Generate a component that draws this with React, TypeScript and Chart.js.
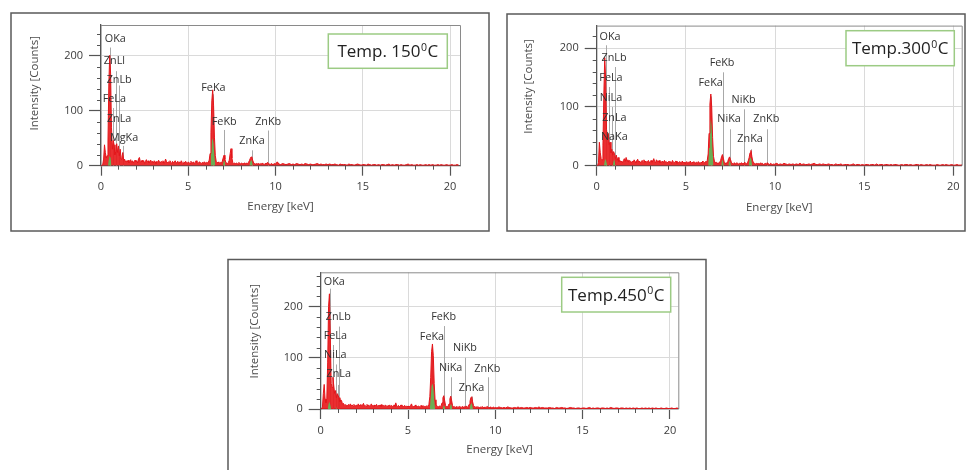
import React, { useEffect, useRef } from 'react';
import { Chart, registerables } from 'chart.js';

Chart.register(...registerables);

// ---- channel grid of the spectra (keV) ----
const LOW_START = 0;
const LOW_STEP = 0.05; // 0.00 .. 9.95 keV
const HIGH_START = 10;
const HIGH_STEP = 0.1; // 10.0 .. 20.5 keV

// ---- Temp. 150 C ----
const counts150Low = [
  0, 0, 2, 12, 38, 24, 14, 18, 45, 150, 201, 168, 70, 30, 46, 38, 20, 26, 40, 24,
  36, 18, 30, 12, 16, 24, 10, 12, 7, 9, 6, 10, 5, 8, 11, 6, 9, 5, 8, 10,
  7, 9, 5, 12, 15, 8, 6, 10, 7, 9, 4, 8, 11, 6, 9, 5, 7, 10, 6, 8,
  5, 9, 7, 4, 8, 6, 10, 7, 5, 8, 6, 9, 4, 7, 12, 8, 5, 7, 6, 9,
  6, 4, 8, 5, 7, 9, 5, 6, 8, 4, 7, 5, 9, 6, 4, 7, 5, 8, 6, 4,
  7, 5, 4, 8, 6, 5, 7, 4, 6, 9, 5, 4, 6, 7, 5, 4, 6, 5, 7, 6,
  5, 6, 5, 7, 10, 22, 60, 118, 138, 110, 52, 18, 8, 6, 5, 7, 4, 6, 5, 8,
  14, 19, 12, 6, 5, 4, 6, 10, 22, 31, 14, 6, 4, 5, 3, 5, 4, 3, 6, 4,
  3, 5, 4, 3, 5, 4, 3, 5, 4, 6, 9, 13, 16, 15, 9, 5, 4, 3, 4, 3,
  4, 3, 2, 4, 3, 5, 3, 2, 4, 3, 5, 6, 4, 3, 2, 4, 3, 2, 3, 4,
];
const counts150High = [
  3, 7, 3, 2, 4, 3, 2, 3, 4, 2,
  3, 2, 4, 3, 2, 3, 2, 4, 3, 2,
  3, 2, 2, 3, 4, 2, 3, 2, 2, 3,
  2, 3, 2, 2, 3, 2, 1, 3, 2, 2,
  2, 1, 3, 2, 2, 1, 2, 3, 2, 1,
  2, 2, 1, 3, 2, 1, 2, 2, 1, 2,
  1, 2, 2, 1, 2, 3, 1, 2, 1, 2,
  2, 1, 2, 1, 1, 2, 3, 1, 2, 1,
  1, 2, 1, 2, 1, 1, 2, 1, 2, 1,
  2, 1, 1, 2, 1, 2, 1, 1, 2, 1,
  1, 2, 1, 1, 2, 1,
];
const green150Energy = [0.40, 0.45, 0.50, 0.55, 0.60, null, 6.25, 6.30, 6.35, 6.40, 6.45, 6.50, 6.55, null, 6.98, 7.03, 7.08, 7.13, null, 8.50, 8.55, 8.60, 8.65, 8.70];
const green150Counts = [0, 12, 18, 14, 0, null, 0, 20, 45, 50, 40, 15, 0, null, 0, 8, 9, 0, null, 0, 7, 10, 9, 0];
const marks150Names = ['OKa', 'ZnLl', 'ZnLb', 'FeLa', 'ZnLa', 'MgKa', 'FeKa', 'FeKb', 'ZnKa', 'ZnKb'];
const marks150Energy = [0.525, 0.884, 1.034, 0.705, 1.012, 1.254, 6.4, 7.058, 8.638, 9.572];
const marks150Top = [215, 172, 146, 105, 62, 36, 130, 65, 28, 64];
const labels150X = [0.82, 0.77, 1.04, 0.76, 1.04, 1.32, 6.44, 7.06, 8.65, 9.58];
const labels150Y = [230, 191, 156, 121, 86, 51, 141, 80, 45, 80];

// ---- Temp. 300 C ----
const counts300Low = [
  0, 0, 5, 40, 22, 12, 10, 35, 120, 184, 150, 62, 48, 55, 36, 40, 22, 28, 18, 24,
  20, 12, 18, 9, 14, 7, 9, 6, 8, 5, 9, 12, 7, 14, 8, 10, 6, 9, 7, 5,
  8, 6, 10, 7, 5, 9, 11, 6, 8, 5, 7, 9, 6, 10, 5, 8, 6, 7, 9, 5,
  7, 9, 6, 8, 12, 7, 5, 10, 8, 6, 9, 5, 7, 6, 8, 5, 9, 6, 7, 5,
  6, 8, 5, 7, 4, 9, 6, 5, 7, 8, 4, 6, 5, 7, 6, 4, 8, 5, 6, 4,
  5, 7, 4, 6, 5, 8, 4, 6, 5, 7, 4, 5, 6, 4, 7, 5, 4, 6, 5, 8,
  6, 5, 7, 6, 9, 20, 55, 105, 122, 100, 48, 16, 8, 5, 6, 4, 5, 4, 6, 9,
  15, 19, 13, 6, 4, 5, 4, 7, 12, 15, 11, 6, 4, 3, 5, 4, 3, 5, 4, 3,
  4, 3, 5, 4, 3, 4, 6, 4, 3, 5, 8, 14, 22, 26, 16, 8, 5, 4, 3, 4,
  3, 4, 2, 3, 5, 3, 4, 2, 3, 4, 3, 5, 4, 3, 2, 4, 3, 2, 3, 2,
];
const counts300High = [
  3, 4, 2, 3, 2, 4, 3, 2, 3, 2,
  3, 2, 3, 2, 4, 2, 3, 2, 2, 3,
  2, 3, 4, 2, 2, 3, 2, 3, 2, 2,
  3, 2, 2, 1, 3, 2, 2, 3, 1, 2,
  2, 2, 1, 2, 3, 1, 2, 2, 1, 2,
  1, 2, 2, 1, 2, 2, 1, 3, 1, 2,
  2, 1, 2, 2, 1, 2, 1, 2, 2, 1,
  1, 2, 1, 2, 2, 1, 2, 1, 1, 2,
  2, 1, 2, 1, 1, 2, 1, 2, 1, 1,
  1, 2, 1, 1, 2, 1, 2, 1, 1, 2,
  1, 1, 2, 1, 1, 2,
];
const green300Energy = [0.40, 0.45, 0.50, 0.55, 0.60, null, 0.90, 0.95, 1.00, 1.05, null, 6.25, 6.30, 6.35, 6.40, 6.45, 6.50, 6.55, null, 6.98, 7.03, 7.08, 7.13, null, 7.38, 7.43, 7.48, 7.53, null, 8.52, 8.57, 8.62, 8.67, 8.72];
const green300Counts = [0, 8, 12, 6, 0, null, 0, 8, 10, 0, null, 0, 30, 70, 80, 68, 28, 0, null, 0, 9, 10, 0, null, 0, 7, 8, 0, null, 0, 10, 14, 12, 0];
const marks300Names = ['OKa', 'ZnLb', 'FeLa', 'NiLa', 'ZnLa', 'NaKa', 'FeKa', 'FeKb', 'NiKa', 'NiKb', 'ZnKa', 'ZnKb'];
const marks300Energy = [0.525, 1.034, 0.705, 0.851, 1.012, 1.041, 6.4, 7.058, 7.478, 8.265, 8.638, 9.572];
const marks300Top = [205, 168, 134, 100, 72, 40, 118, 159, 62, 96, 28, 62];
const labels300X = [0.75, 0.97, 0.8, 0.8, 0.99, 0.99, 6.39, 7.03, 7.42, 8.24, 8.6, 9.51];
const labels300Y = [220, 184, 150, 116, 82, 49, 141, 175, 79, 112, 45, 79];

// ---- Temp. 450 C ----
const counts450Low = [
  0, 0, 4, 30, 48, 20, 12, 20, 90, 200, 225, 140, 50, 42, 62, 45, 30, 36, 22, 30,
  26, 22, 14, 18, 16, 9, 11, 7, 9, 6, 8, 5, 9, 7, 10, 6, 8, 5, 9, 7,
  6, 8, 5, 10, 7, 6, 9, 5, 8, 11, 6, 7, 5, 9, 6, 8, 5, 7, 10, 6,
  7, 5, 8, 6, 9, 5, 7, 6, 8, 5, 9, 6, 7, 5, 8, 6, 5, 7, 6, 8,
  5, 7, 6, 4, 8, 5, 12, 6, 5, 7, 4, 6, 8, 5, 6, 4, 7, 5, 6, 4,
  6, 4, 5, 7, 10, 5, 4, 6, 5, 8, 4, 5, 6, 4, 5, 7, 4, 5, 6, 5,
  5, 6, 5, 7, 10, 24, 62, 112, 127, 104, 50, 18, 8, 6, 5, 4, 6, 5, 7, 12,
  22, 26, 16, 7, 5, 4, 6, 10, 20, 25, 16, 7, 4, 5, 3, 4, 5, 3, 4, 5,
  4, 3, 5, 4, 3, 5, 4, 6, 3, 5, 9, 15, 22, 24, 14, 7, 5, 4, 3, 5,
  3, 4, 2, 4, 3, 5, 3, 2, 4, 3, 4, 5, 3, 2, 4, 3, 2, 3, 4, 2,
];
const counts450High = [
  3, 2, 4, 3, 2, 3, 2, 4, 3, 2,
  2, 3, 2, 4, 2, 3, 2, 2, 3, 2,
  3, 2, 2, 3, 2, 4, 2, 3, 2, 2,
  2, 3, 2, 2, 1, 3, 2, 2, 3, 2,
  2, 1, 2, 3, 2, 2, 1, 2, 2, 1,
  2, 2, 1, 2, 3, 1, 2, 1, 2, 2,
  1, 2, 2, 1, 2, 1, 3, 2, 1, 2,
  2, 1, 2, 2, 1, 2, 1, 2, 1, 2,
  1, 2, 1, 1, 2, 1, 2, 1, 2, 1,
  2, 1, 2, 1, 1, 2, 1, 1, 2, 1,
  1, 2, 1, 1, 2, 1,
];
const green450Energy = [0.40, 0.45, 0.50, 0.55, 0.60, null, 0.82, 0.87, 0.92, null, 6.25, 6.30, 6.35, 6.40, 6.45, 6.50, 6.55, null, 6.98, 7.03, 7.08, 7.13, null, 7.38, 7.43, 7.48, 7.53, null, 8.52, 8.57, 8.62, 8.67, 8.72];
const green450Counts = [0, 10, 14, 8, 0, null, 0, 6, 0, null, 0, 22, 45, 50, 42, 18, 0, null, 0, 6, 7, 0, null, 0, 8, 10, 0, null, 0, 8, 11, 10, 0];
const marks450Names = ['OKa', 'ZnLb', 'FeLa', 'NiLa', 'ZnLa', 'FeKa', 'FeKb', 'NiKa', 'NiKb', 'ZnKa', 'ZnKb'];
const marks450Energy = [0.525, 1.034, 0.705, 0.851, 1.012, 6.4, 7.058, 7.478, 8.265, 8.638, 9.572];
const marks450Top = [235, 161, 125, 87, 47, 122, 162, 62, 100, 24, 62];
const labels450X = [0.78, 1.01, 0.84, 0.84, 1.03, 6.37, 7.04, 7.44, 8.26, 8.64, 9.54];
const labels450Y = [249, 180, 143, 106, 68, 141, 179, 81, 119, 42, 79];

// ---- axis ticks ----
const xMajorStep = 5;
const xMinorStep = 1;
const yMajorStep = 100;
const yMinorStep = 20;

const FONT = '"Open Sans", "Noto Sans", sans-serif';
const RED = '#e3161b';
const RED_FILL = 'rgba(232,28,30,0.92)';
const GREEN = '#6aae55';

type Layout = {
  left: number; top: number; width: number; height: number;
  plot: { left: number; top: number; right: number; bottom: number };
  xMax: number; yMax: number;
  box: { x: number; y: number; w: number; h: number };
  tempMain: string; tempTail: string;
  xTitleDy: number; yTitleDx: number; yTitleDy: number;
  borderTop: number; borderBottomExtra: number;
};

const panels = [
  {
    layout: {
      left: 10, top: 12, width: 480, height: 220,
      plot: { left: 91, top: 13, right: 450, bottom: 153.7 },
      xMax: 20.57, yMax: 256,
      box: { x: 318.3, y: 22, w: 119, h: 34.3 },
      tempMain: 'Temp. 150', tempTail: 'C',
      xTitleDy: 41, yTitleDx: 66, yTitleDy: 58.3,
      borderTop: 1, borderBottomExtra: 0,
    } as Layout,
    low: counts150Low, high: counts150High,
    greenE: green150Energy, greenC: green150Counts,
    names: marks150Names, energy: marks150Energy, tops: marks150Top, lx: labels150X, ly: labels150Y,
  },
  {
    layout: {
      left: 506, top: 13, width: 460, height: 219,
      plot: { left: 90.7, top: 12, right: 455.7, bottom: 152.7 },
      xMax: 20.47, yMax: 238.5,
      box: { x: 340, y: 17.7, w: 108.3, h: 35 },
      tempMain: 'Temp.300', tempTail: 'C',
      xTitleDy: 41.6, yTitleDx: 68.4, yTitleDy: 60.8,
      borderTop: 1, borderBottomExtra: 0,
    } as Layout,
    low: counts300Low, high: counts300High,
    greenE: green300Energy, greenC: green300Counts,
    names: marks300Names, energy: marks300Energy, tops: marks300Top, lx: labels300X, ly: labels300Y,
  },
  {
    layout: {
      left: 227, top: 258, width: 480, height: 212,
      plot: { left: 93.7, top: 14.3, right: 451.3, bottom: 151 },
      xMax: 20.48, yMax: 267,
      box: { x: 334.7, y: 19.3, w: 109, h: 34.7 },
      tempMain: 'Temp.450', tempTail: 'C',
      xTitleDy: 40.3, yTitleDx: 66.4, yTitleDy: 59,
      borderTop: 1.5, borderBottomExtra: 30,
    } as Layout,
    low: counts450Low, high: counts450High,
    greenE: green450Energy, greenC: green450Counts,
    names: marks450Names, energy: marks450Energy, tops: marks450Top, lx: labels450X, ly: labels450Y,
  },
];

const decorPlugin = {
  id: 'panelDecor',
  beforeDatasetsDraw(chart: any, _args: any, opts: any) {
    const { ctx, scales } = chart;
    const xs = scales.x, ys = scales.y;
    ctx.save();
    ctx.strokeStyle = '#a8a8a8';
    ctx.lineWidth = 1;
    opts.energy.forEach((e: number, i: number) => {
      const px = Math.round(xs.getPixelForValue(e)) + 0.5;
      ctx.beginPath();
      ctx.moveTo(px, ys.getPixelForValue(0));
      ctx.lineTo(px, ys.getPixelForValue(opts.tops[i]));
      ctx.stroke();
    });
    ctx.restore();
  },
  afterDatasetsDraw(chart: any, _args: any, opts: any) {
    const { ctx, scales } = chart;
    const xs = scales.x, ys = scales.y;
    ctx.save();
    ctx.fillStyle = '#333333';
    ctx.font = `10.8px ${FONT}`;
    ctx.textAlign = 'center';
    ctx.textBaseline = 'middle';
    opts.names.forEach((n: string, i: number) => {
      ctx.fillText(n, xs.getPixelForValue(opts.lx[i]), ys.getPixelForValue(opts.ly[i]));
    });
    ctx.restore();
  },
  afterDraw(chart: any, _args: any, opts: any) {
    const { ctx, scales, chartArea } = chart;
    const L: Layout = opts.layout;
    const xs = scales.x, ys = scales.y;
    ctx.save();
    // plot frame (top / right)
    ctx.strokeStyle = '#8a8a8a';
    ctx.lineWidth = 1;
    ctx.beginPath();
    ctx.moveTo(chartArea.left, chartArea.top + 0.5);
    ctx.lineTo(chartArea.right + 0.5, chartArea.top + 0.5);
    ctx.lineTo(chartArea.right + 0.5, chartArea.bottom);
    ctx.stroke();
    // minor ticks
    ctx.strokeStyle = '#555';
    ctx.lineWidth = 1;
    for (let v = xMinorStep; v <= L.xMax; v += xMinorStep) {
      if (v % xMajorStep === 0) continue;
      const px = Math.round(xs.getPixelForValue(v)) + 0.5;
      ctx.beginPath();
      ctx.moveTo(px, chartArea.bottom);
      ctx.lineTo(px, chartArea.bottom + 4);
      ctx.stroke();
    }
    for (let v = yMinorStep; v <= L.yMax; v += yMinorStep) {
      if (v % yMajorStep === 0) continue;
      const py = Math.round(ys.getPixelForValue(v)) + 0.5;
      ctx.beginPath();
      ctx.moveTo(chartArea.left - 4, py);
      ctx.lineTo(chartArea.left, py);
      ctx.stroke();
    }
    // axis titles
    ctx.fillStyle = '#4a4a4a';
    ctx.font = `11.5px ${FONT}`;
    ctx.textAlign = 'center';
    ctx.textBaseline = 'middle';
    ctx.fillText('Energy [keV]', (chartArea.left + chartArea.right) / 2, chartArea.bottom + L.xTitleDy);
    ctx.save();
    ctx.translate(chartArea.left - L.yTitleDx, chartArea.top + L.yTitleDy);
    ctx.rotate(-Math.PI / 2);
    ctx.fillText('Intensity [Counts]', 0, 0);
    ctx.restore();
    // temperature box
    const b = L.box;
    ctx.fillStyle = '#ffffff';
    ctx.fillRect(b.x, b.y, b.w, b.h);
    ctx.strokeStyle = '#9ccb84';
    ctx.lineWidth = 1.5;
    ctx.strokeRect(b.x, b.y, b.w, b.h);
    ctx.fillStyle = '#222';
    ctx.textAlign = 'left';
    ctx.textBaseline = 'alphabetic';
    const mainFont = `17px ${FONT}`;
    const supFont = `10.5px ${FONT}`;
    ctx.font = mainFont;
    const w1 = ctx.measureText(L.tempMain).width;
    const w3 = ctx.measureText(L.tempTail).width;
    ctx.font = supFont;
    const w2 = ctx.measureText('0').width;
    const total = w1 + w2 + w3 + 1;
    let tx = b.x + b.w / 2 - total / 2;
    const base = b.y + b.h / 2 + 6;
    ctx.font = mainFont;
    ctx.fillText(L.tempMain, tx, base);
    tx += w1;
    ctx.font = supFont;
    ctx.fillText('0', tx + 0.5, base - 6.5);
    tx += w2 + 1;
    ctx.font = mainFont;
    ctx.fillText(L.tempTail, tx, base);
    // panel border
    ctx.strokeStyle = '#5a5a5a';
    ctx.lineWidth = 1.5;
    ctx.strokeRect(1, L.borderTop, L.width - 2, L.height - L.borderTop - 1 + L.borderBottomExtra);
    ctx.restore();
  },
};

function buildSpectrum(low: number[], high: number[]) {
  const pts: { x: number; y: number }[] = [];
  low.forEach((y, i) => pts.push({ x: +(LOW_START + i * LOW_STEP).toFixed(3), y }));
  high.forEach((y, j) => pts.push({ x: +(HIGH_START + j * HIGH_STEP).toFixed(3), y }));
  return pts;
}

function buildGreen(es: (number | null)[], cs: (number | null)[]) {
  let last = 0;
  return es.map((e, i) => {
    if (e !== null) last = e;
    return { x: last, y: cs[i] };
  });
}

function Panel({ p }: { p: (typeof panels)[number] }) {
  const ref = useRef<HTMLCanvasElement>(null);
  const L = p.layout;
  useEffect(() => {
    if (!ref.current) return;
    const spectrum = buildSpectrum(p.low, p.high);
    const green = buildGreen(p.greenE, p.greenC);
    const chart = new Chart(ref.current, {
      type: 'line',
      data: {
        datasets: [
          { data: spectrum, borderColor: RED, borderWidth: 1, fill: false, pointRadius: 0, order: 0 } as any,
          { data: green, borderWidth: 0, borderColor: 'rgba(0,0,0,0)', backgroundColor: GREEN, fill: 'origin', pointRadius: 0, spanGaps: false, order: 1 } as any,
          { data: spectrum, borderWidth: 0, borderColor: 'rgba(0,0,0,0)', backgroundColor: RED_FILL, fill: 'origin', pointRadius: 0, order: 2 } as any,
        ],
      },
      options: {
        animation: false,
        responsive: false,
        devicePixelRatio: 1,
        events: [],
        layout: { padding: { left: 0, top: L.plot.top, right: L.width - L.plot.right, bottom: 0 } },
        elements: { point: { radius: 0 }, line: { tension: 0 } },
        plugins: {
          legend: { display: false },
          tooltip: { enabled: false },
          panelDecor: { layout: L, energy: p.energy, tops: p.tops, names: p.names, lx: p.lx, ly: p.ly },
        } as any,
        scales: {
          x: {
            type: 'linear', min: 0, max: L.xMax,
            afterFit: (s: any) => { s.height = L.height - L.plot.bottom; },
            ticks: { stepSize: xMajorStep, includeBounds: false, color: '#3c3c3c', font: { family: FONT, size: 11 }, padding: 5, maxRotation: 0, autoSkip: false },
            grid: { color: '#dadada', lineWidth: 1, tickLength: 10, tickColor: '#555', tickWidth: 1.2 },
            border: { display: true, color: '#555', width: 1.3 },
          },
          y: {
            type: 'linear', min: 0, max: L.yMax,
            afterFit: (s: any) => { s.width = L.plot.left; },
            ticks: { stepSize: yMajorStep, includeBounds: false, color: '#3c3c3c', font: { family: FONT, size: 11 }, padding: 6 },
            grid: { color: '#dadada', lineWidth: 1, tickLength: 12, tickColor: '#555', tickWidth: 1.2 },
            border: { display: true, color: '#555', width: 1.3 },
          },
        } as any,
      },
      plugins: [decorPlugin as any],
    });
    return () => chart.destroy();
  }, []);
  return (
    <canvas
      ref={ref}
      width={L.width}
      height={L.height}
      style={{ position: 'absolute', left: L.left, top: L.top, width: L.width, height: L.height }}
    />
  );
}

export default function App() {
  return (
    <div style={{ position: 'absolute', left: 0, top: 0, width: 973, height: 470, background: '#ffffff', overflow: 'hidden' }}>
      {panels.map((p, i) => (
        <Panel key={i} p={p} />
      ))}
    </div>
  );
}
